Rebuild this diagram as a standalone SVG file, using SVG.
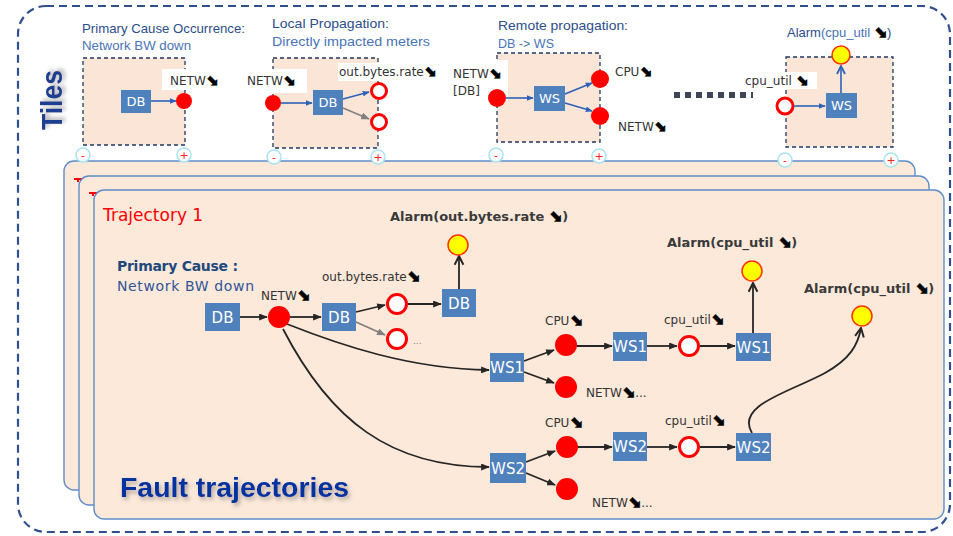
<svg xmlns="http://www.w3.org/2000/svg" width="953" height="536" viewBox="0 0 953 536">
<style>
.tile{fill:#FBE5D6;stroke:#1F3864;stroke-width:1.3;stroke-dasharray:4 3}
.card{fill:#FDE9DA;stroke:#5E8CC8;stroke-width:1.4}
.box{fill:#4F81BD}
.bt{fill:#fff;font-family:"DejaVu Sans",sans-serif;text-anchor:middle}
.red{fill:#FF0000}
.open{fill:#fff;stroke:#FF0000;stroke-width:3}
.yel{fill:#FFFF00;stroke:#FF3300;stroke-width:1.5}
.pm{fill:#fff;stroke:#A8E4F2;stroke-width:1.5}
.pmt{fill:#FF2020;font-family:"DejaVu Sans",sans-serif;font-size:11px;text-anchor:middle}
.lbl{fill:#333;font-family:"DejaVu Sans",sans-serif;font-size:12px}
.lblb{fill:#3A3A3A;font-family:"DejaVu Sans",sans-serif;font-size:13px;font-weight:bold}
.ar{font-family:"DejaVu Sans",sans-serif;font-weight:bold;fill:#000;stroke:#000;stroke-width:0.5}
.tt1{fill:#2D4E8C;font-family:"Liberation Sans",sans-serif;font-size:13px}
.tt2{fill:#4A74B8;font-family:"Liberation Sans",sans-serif;font-size:13px}
.lk{fill:none;stroke:#262626;stroke-width:1.8}
.lb{fill:none;stroke:#2E62B8;stroke-width:1.6}
.lg{fill:none;stroke:#808080;stroke-width:1.8}
.wbg{fill:#fff}
</style>
<defs>
<marker id="ak" viewBox="0 0 10 8" refX="9" refY="4" markerWidth="9" markerHeight="7" markerUnits="userSpaceOnUse" orient="auto"><path d="M0,0 L10,4 L0,8 z" fill="#262626"/></marker>
<marker id="akv" viewBox="0 0 10 10" refX="9" refY="5" markerWidth="11" markerHeight="11" markerUnits="userSpaceOnUse" orient="auto"><path d="M1,1 L9,5 L1,9" fill="none" stroke="#262626" stroke-width="1.8"/></marker>
<marker id="ag" viewBox="0 0 10 8" refX="9" refY="4" markerWidth="9" markerHeight="7" markerUnits="userSpaceOnUse" orient="auto"><path d="M0,0 L10,4 L0,8 z" fill="#808080"/></marker>
<marker id="ab" viewBox="0 0 10 8" refX="9" refY="4" markerWidth="7" markerHeight="6" markerUnits="userSpaceOnUse" orient="auto"><path d="M0,0 L10,4 L0,8 z" fill="#2E62B8"/></marker>
<marker id="abv" viewBox="0 0 10 10" refX="9" refY="5" markerWidth="10" markerHeight="10" markerUnits="userSpaceOnUse" orient="auto"><path d="M1,1 L9,5 L1,9" fill="none" stroke="#2E62B8" stroke-width="1.8"/></marker>
<filter id="sh" x="-20%" y="-20%" width="140%" height="160%"><feDropShadow dx="2" dy="3" stdDeviation="2" flood-color="#777" flood-opacity="0.6"/></filter>
</defs>

<rect x="18" y="6" width="932" height="526" rx="28" fill="#fff" stroke="#2F4F8F" stroke-width="2.2" stroke-dasharray="8 5"/>
<text x="62" y="100" transform="rotate(-90 62 100)" text-anchor="middle" font-family="Liberation Sans,sans-serif" font-size="30" font-weight="bold" fill="#1F3F8F" textLength="60" lengthAdjust="spacingAndGlyphs" filter="url(#sh)">Tiles</text>

<!-- Stacked trajectory cards -->
<g id="card-back">
<rect class="card" x="64" y="161" width="851" height="329" rx="10"/>
<path d="M74 179 H84 M78 179 V182" stroke="#FF0000" stroke-width="2"/>
</g>
<g id="card-mid">
<rect class="card" x="79" y="176" width="850" height="329" rx="10"/>
<path d="M89 193 H99 M93 193 V196" stroke="#FF0000" stroke-width="2"/>
</g>
<g id="card-front">
<rect class="card" x="94" y="190" width="850" height="329" rx="10"/>
<text x="103" y="221" fill="#FF0000" font-family="DejaVu Sans,sans-serif" font-size="17">Trajectory 1</text>
<text x="117" y="271" fill="#1F497D" font-family="DejaVu Sans,sans-serif" font-size="14" font-weight="bold" textLength="121">Primary Cause :</text>
<text x="117" y="291" fill="#2F5597" font-family="DejaVu Sans,sans-serif" font-size="14" textLength="137">Network BW down</text>
<text x="120" y="497" fill="#0033A0" font-family="Liberation Sans,sans-serif" font-size="28" font-weight="bold" textLength="229" lengthAdjust="spacingAndGlyphs" filter="url(#sh)">Fault trajectories</text>
</g>

<!-- Tiles -->
<g id="tile1">
<text class="tt1" x="82" y="33" textLength="163" lengthAdjust="spacingAndGlyphs">Primary Cause Occurrence:</text>
<text class="tt2" x="82" y="50" textLength="109" lengthAdjust="spacingAndGlyphs">Network BW down</text>
<rect class="tile" x="83" y="58" width="102" height="87"/>
<rect class="wbg" x="162" y="69" width="51" height="21"/>
<text class="lbl" x="170" y="85">NETW<tspan class="ar" font-size="15">⬊</tspan></text>
<rect class="box" x="121" y="90" width="30" height="23"/>
<text class="bt" x="136" y="106" font-size="13">DB</text>
<line class="lb" x1="151" y1="101" x2="176" y2="101" marker-end="url(#ab)"/>
<circle class="red" cx="184" cy="101" r="8"/>
<circle class="pm" cx="83" cy="155" r="7"/><text class="pmt" x="83" y="159">-</text>
<circle class="pm" cx="184" cy="155" r="7"/><text class="pmt" x="184" y="159">+</text>
</g>

<g id="tile2">
<text class="tt1" x="272" y="28" textLength="117" lengthAdjust="spacingAndGlyphs">Local Propagation:</text>
<text class="tt2" x="272" y="46" textLength="158" lengthAdjust="spacingAndGlyphs">Directly impacted meters</text>
<rect class="tile" x="273" y="58" width="105" height="90"/>
<rect class="wbg" x="246" y="69" width="61" height="24"/>
<text class="lbl" x="247" y="85">NETW<tspan class="ar" font-size="15">⬊</tspan></text>
<rect class="wbg" x="338" y="63" width="99" height="18"/>
<text class="lbl" x="339" y="76">out.bytes.rate<tspan class="ar" font-size="15">⬊</tspan></text>
<circle class="red" cx="273" cy="103" r="8"/>
<rect class="box" x="313" y="90" width="30" height="25"/>
<text class="bt" x="328" y="107" font-size="13">DB</text>
<line class="lb" x1="281" y1="103" x2="312" y2="103" marker-end="url(#ab)"/>
<line class="lb" x1="343" y1="99" x2="369" y2="92" marker-end="url(#ab)"/>
<line x1="343" y1="108" x2="369" y2="119" stroke="#808080" stroke-width="1.6" marker-end="url(#ag)"/>
<circle class="open" cx="379" cy="91" r="7.5" stroke-width="2.5"/>
<circle class="open" cx="379" cy="122" r="7.5" stroke-width="2.5"/>
<circle class="pm" cx="274" cy="157" r="7"/><text class="pmt" x="274" y="161">-</text>
<circle class="pm" cx="378" cy="157" r="7"/><text class="pmt" x="378" y="161">+</text>
</g>

<g id="tile3">
<text class="tt1" x="498" y="30" textLength="130" lengthAdjust="spacingAndGlyphs">Remote propagation:</text>
<text class="tt2" x="498" y="48" textLength="56" lengthAdjust="spacingAndGlyphs">DB -&gt; WS</text>
<rect class="tile" x="497" y="53" width="103" height="89"/>
<rect class="wbg" x="446" y="60" width="62" height="40"/>
<text class="lbl" x="453" y="78">NETW<tspan class="ar" font-size="15">⬊</tspan></text>
<text class="lbl" x="453" y="95">[DB]</text>
<circle class="red" cx="497" cy="98" r="9"/>
<rect class="box" x="534" y="86" width="31" height="25"/>
<text class="bt" x="549.5" y="103" font-size="13">WS</text>
<line class="lb" x1="506" y1="98" x2="533" y2="98" marker-end="url(#ab)"/>
<line class="lb" x1="565" y1="94" x2="592" y2="83" marker-end="url(#ab)"/>
<line class="lb" x1="565" y1="103" x2="592" y2="111" marker-end="url(#ab)"/>
<circle class="red" cx="600" cy="79" r="9"/>
<circle class="red" cx="600" cy="116" r="9"/>
<text class="lbl" x="615" y="76">CPU<tspan class="ar" font-size="15">⬊</tspan></text>
<text class="lbl" x="618" y="131">NETW<tspan class="ar" font-size="15">⬊</tspan></text>
<circle class="pm" cx="496" cy="155" r="7"/><text class="pmt" x="496" y="159">-</text>
<circle class="pm" cx="599" cy="156" r="7"/><text class="pmt" x="599" y="160">+</text>
</g>

<line x1="674" y1="95" x2="753" y2="95" stroke="#3C4656" stroke-width="6" stroke-dasharray="6 5"/>

<g id="tile4">
<text class="tt1" x="787" y="37">Alarm<tspan fill="#4A74B8">(cpu_util </tspan><tspan class="ar" fill="#1F3F8F" stroke="#1F3F8F" font-size="16">⬊</tspan>)</text>
<rect class="tile" x="786" y="57" width="107" height="90"/>
<rect class="wbg" x="742" y="72" width="75" height="17"/>
<text class="lbl" x="745" y="85">cpu_util <tspan class="ar" font-size="15">⬊</tspan></text>
<circle class="open" cx="785" cy="106" r="8" stroke-width="2.5"/>
<rect class="box" x="826" y="93" width="31" height="25"/>
<text class="bt" x="841.5" y="110" font-size="13">WS</text>
<line class="lb" x1="794" y1="106" x2="825" y2="106" marker-end="url(#ab)"/>
<line class="lb" x1="841" y1="93" x2="841" y2="66" marker-end="url(#abv)"/>
<circle class="yel" cx="841" cy="55" r="9"/>
<circle class="pm" cx="785" cy="160" r="7"/><text class="pmt" x="785" y="164">-</text>
<circle class="pm" cx="891" cy="160" r="7"/><text class="pmt" x="891" y="164">+</text>
</g>

<!-- Trajectory connectors -->
<g id="connectors">
<line class="lk" x1="240" y1="317" x2="267" y2="317" marker-end="url(#ak)"/>
<line class="lk" x1="290" y1="317" x2="321" y2="317" marker-end="url(#ak)"/>
<line class="lk" x1="356" y1="312" x2="385" y2="305" marker-end="url(#ak)"/>
<line class="lg" x1="356" y1="322" x2="385" y2="335" marker-end="url(#ag)"/>
<line class="lk" x1="408" y1="304" x2="441" y2="304" marker-end="url(#ak)"/>
<line class="lk" x1="459" y1="289" x2="459" y2="256" marker-end="url(#akv)"/>
<path class="lk" d="M287 324 C340 345 410 369 489 370" marker-end="url(#ak)"/>
<path class="lk" d="M283 329 C330 420 390 467 489 467" marker-end="url(#ak)"/>
<line class="lk" x1="524" y1="361" x2="554" y2="350" marker-end="url(#ak)"/>
<line class="lk" x1="524" y1="372" x2="554" y2="383" marker-end="url(#ak)"/>
<line class="lk" x1="577" y1="346" x2="612" y2="346" marker-end="url(#ak)"/>
<line class="lk" x1="647" y1="346" x2="677" y2="346" marker-end="url(#ak)"/>
<line class="lk" x1="700" y1="346" x2="735" y2="346" marker-end="url(#ak)"/>
<line class="lk" x1="753" y1="333" x2="753" y2="283" marker-end="url(#akv)"/>
<line class="lk" x1="526" y1="462" x2="555" y2="451" marker-end="url(#ak)"/>
<line class="lk" x1="526" y1="473" x2="555" y2="485" marker-end="url(#ak)"/>
<line class="lk" x1="578" y1="447" x2="612" y2="447" marker-end="url(#ak)"/>
<line class="lk" x1="647" y1="447" x2="677" y2="447" marker-end="url(#ak)"/>
<line class="lk" x1="700" y1="447" x2="735" y2="447" marker-end="url(#ak)"/>
<path class="lk" d="M752 433 C735 405 790 392 825 373 C850 359 858 345 861 328" marker-end="url(#akv)"/>
</g>

<!-- Trajectory nodes -->
<g id="db1"><rect class="box" x="205" y="303" width="35" height="28"/><text class="bt" x="222.5" y="323" font-size="15">DB</text></g>
<g id="netw"><circle class="red" cx="279" cy="317" r="11"/><text class="lbl" x="261" y="300" font-size="13">NETW<tspan class="ar" font-size="16">⬊</tspan></text></g>
<g id="db2"><rect class="box" x="322" y="303" width="34" height="28"/><text class="bt" x="339" y="323" font-size="15">DB</text></g>
<g id="obr1"><circle class="open" cx="397" cy="304" r="9.5"/><text class="lbl" x="322" y="281" font-size="13">out.bytes.rate<tspan class="ar" font-size="16">⬊</tspan></text></g>
<g id="obr2"><circle class="open" cx="397" cy="339" r="9.5"/><text x="413" y="344" fill="#808080" font-family="DejaVu Sans,sans-serif" font-size="9">...</text></g>
<g id="db3"><rect class="box" x="442" y="289" width="34" height="28"/><text class="bt" x="459" y="309" font-size="15">DB</text></g>
<g id="alarm1"><circle class="yel" cx="458" cy="245" r="10"/><text class="lblb" x="390" y="221">Alarm(out.bytes.rate <tspan class="ar" font-size="16">⬊</tspan>)</text></g>

<g id="ws1a"><rect class="box" x="490" y="353" width="34" height="29"/><text class="bt" x="507" y="373" font-size="15">WS1</text></g>
<g id="cpu1"><circle class="red" cx="566" cy="345" r="11"/><text class="lbl" x="545" y="325" font-size="13">CPU<tspan class="ar" font-size="16">⬊</tspan></text></g>
<g id="netw1"><circle class="red" cx="566" cy="387" r="11"/><text class="lbl" x="586" y="397" font-size="13">NETW<tspan class="ar" font-size="16">⬊</tspan>...</text></g>
<g id="ws1b"><rect class="box" x="613" y="332" width="34" height="29"/><text class="bt" x="630" y="352" font-size="15">WS1</text></g>
<g id="cu1"><circle class="open" cx="689" cy="346" r="9.5"/><text class="lbl" x="664" y="324" font-size="13">cpu_util<tspan class="ar" font-size="16">⬊</tspan></text></g>
<g id="ws1c"><rect class="box" x="736" y="333" width="35" height="28"/><text class="bt" x="753.5" y="353" font-size="15">WS1</text></g>
<g id="alarm2"><circle class="yel" cx="752" cy="271" r="10"/><text class="lblb" x="667" y="247">Alarm(cpu_util <tspan class="ar" font-size="16">⬊</tspan>)</text></g>

<g id="ws2a"><rect class="box" x="490" y="453" width="36" height="30"/><text class="bt" x="508" y="474" font-size="15">WS2</text></g>
<g id="cpu2"><circle class="red" cx="567" cy="447" r="11"/><text class="lbl" x="545" y="427" font-size="13">CPU<tspan class="ar" font-size="16">⬊</tspan></text></g>
<g id="netw2"><circle class="red" cx="567" cy="489" r="11"/><text class="lbl" x="592" y="507" font-size="13">NETW<tspan class="ar" font-size="16">⬊</tspan>...</text></g>
<g id="ws2b"><rect class="box" x="613" y="432" width="34" height="29"/><text class="bt" x="630" y="452" font-size="15">WS2</text></g>
<g id="cu2"><circle class="open" cx="689" cy="447" r="9.5"/><text class="lbl" x="665" y="425" font-size="13">cpu_util<tspan class="ar" font-size="16">⬊</tspan></text></g>
<g id="ws2c"><rect class="box" x="736" y="433" width="35" height="28"/><text class="bt" x="753.5" y="453" font-size="15">WS2</text></g>
<g id="alarm3"><circle class="yel" cx="862" cy="316" r="10"/><text class="lblb" x="804" y="293">Alarm(cpu_util <tspan class="ar" font-size="16">⬊</tspan>)</text></g>
</svg>
